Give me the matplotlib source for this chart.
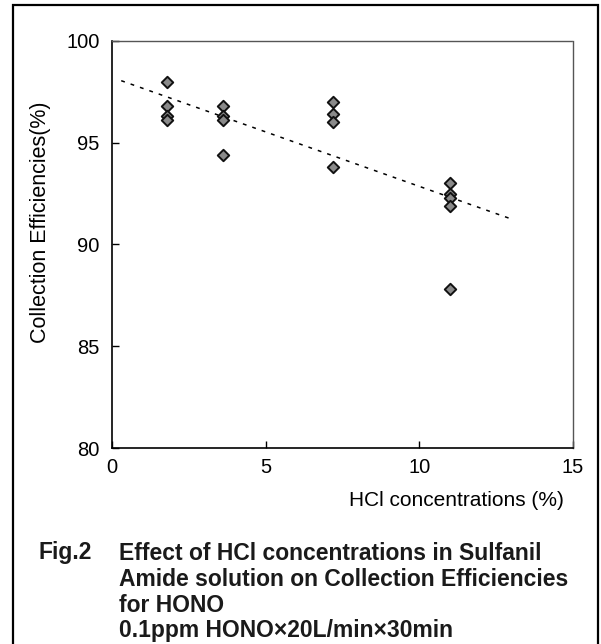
import matplotlib
matplotlib.use("Agg")
import matplotlib.pyplot as plt
from matplotlib.patches import Rectangle

plt.rcParams['font.family'] = ['Liberation Sans', 'DejaVu Sans']

# Data
hcl_conc = [1.8, 1.8, 1.8, 1.8,
            3.6, 3.6, 3.6, 3.6,
            7.2, 7.2, 7.2, 7.2,
            11.0, 11.0, 11.0, 11.0, 11.0]
efficiency = [98.0, 96.8, 96.3, 96.1,
              96.8, 96.3, 96.1, 94.4,
              97.0, 96.4, 96.0, 93.8,
              93.0, 92.5, 92.3, 91.9, 87.8]
trend_x = [0.3, 13.0]
trend_y = [98.05, 91.25]

x_ticks = [0, 5, 10, 15]
y_ticks = [80, 85, 90, 95, 100]

xlabel = "HCl concentrations (%)"
ylabel = "Collection Efficiencies(%)"
caption_head = "Fig.2"
caption_lines = ["Effect of HCl concentrations in Sulfanil",
                 "Amide solution on Collection Efficiencies",
                 "for HONO",
                 "0.1ppm HONO\u00d720L/min\u00d730min"]

W, H = 601, 644
fig = plt.figure(figsize=(W / 100, H / 100), dpi=100)

def fx(px):
    return px / W

def fy(py):
    return 1 - py / H

# outer frame
fig.patches.append(Rectangle((fx(13), fy(646)), fx(598) - fx(13), fy(5) - fy(646),
                             transform=fig.transFigure, fill=False,
                             edgecolor='black', linewidth=1.6))

ax_l, ax_r, ax_t, ax_b = 112, 573, 41, 448
ax = fig.add_axes([fx(ax_l), fy(ax_b), fx(ax_r) - fx(ax_l), fy(ax_t) - fy(ax_b)])

ax.plot(trend_x, trend_y, linestyle=(0, (2.5, 4)), color='black', linewidth=1.1, zorder=2)
ax.scatter(hcl_conc, efficiency, marker='D', s=34, facecolor='#8a8a8a',
           edgecolor='#111111', linewidth=1.4, zorder=3)

ax.set_xlim(0, 15)
ax.set_ylim(80, 100)
ax.set_xticks(x_ticks)
ax.set_yticks(y_ticks)
ax.tick_params(direction='in', length=5, width=1.0, labelsize=14.5, colors='black')
ax.tick_params(axis='x', pad=7)
ax.tick_params(axis='y', pad=9)
for s in ['left', 'bottom']:
    ax.spines[s].set_linewidth(1.2)
    ax.spines[s].set_color('black')
for s in ['top', 'right']:
    ax.spines[s].set_linewidth(1.0)
    ax.spines[s].set_color('#555555')
    ax.spines[s].set_linestyle((0, (1, 1)))

fig.text(fx(564), fy(500), xlabel, ha='right', va='center', fontsize=15)
fig.text(fx(41), fy(222), ylabel, ha='center', va='center', rotation=90, fontsize=15.5)

fig.text(fx(38), fy(553), caption_head, ha='left', va='center', fontsize=16.5,
         fontweight='bold', color='#1a1a1a')
for i, line in enumerate(caption_lines):
    fig.text(fx(119), fy(553 + 26 * i), line, ha='left', va='center', fontsize=16.5,
             fontweight='bold', color='#1a1a1a')

fig.savefig("out.png", dpi=100)
